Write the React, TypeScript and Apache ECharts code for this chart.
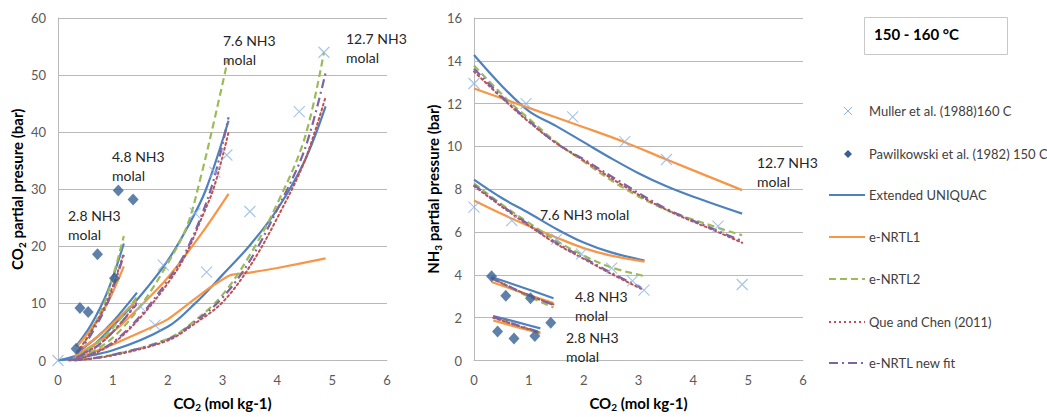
import React, { useEffect, useRef } from "react";
import * as echarts from "echarts";

// ---------- Data ----------
// Left chart: CO2 partial pressure (bar) vs CO2 molality (mol/kg)
const L_UNI_28 = [[0.33, 2.5], [0.6, 6.2], [0.9, 12], [1.2, 20.5]];
const L_UNI_48 = [[0.34, 1.3], [0.7, 4], [1.0, 6.8], [1.44, 11.9]];
const L_UNI_76 = [[0, 0], [0.5, 1.6], [1, 6], [1.5, 11.3], [2, 17.5], [2.4, 24], [2.7, 30], [3.11, 42]];
const L_UNI_127 = [[0, 0], [1, 1.8], [2, 5.9], [2.5, 10], [3, 15], [3.5, 20.2], [4, 26.5], [4.5, 35], [4.88, 44.5]];

const L_N1_28 = [[0.35, 2.5], [0.6, 5.5], [0.9, 10], [1.2, 16.5]];
const L_N1_48 = [[0.33, 1.5], [0.7, 4], [1.0, 6.5], [1.43, 10.5]];
const L_N1_76 = [[0.3, 0.8], [1, 5], [1.5, 9.5], [2, 14.5], [2.6, 22], [3.11, 29.2]];
const L_N1_127 = [[0.3, 0.3], [1, 2.8], [2, 7.2], [2.7, 12.3], [3.13, 14.9], [3.5, 15.4], [4, 16.2], [4.88, 17.9]];

const L_N2_28 = [[0.35, 1.5], [0.6, 5], [0.9, 11.5], [1.2, 21.8]];
const L_N2_48 = [[0.35, 0.8], [0.7, 3], [1.0, 5.7], [1.43, 11]];
const L_N2_76 = [[0.2, 0], [0.5, 0.9], [1, 4], [1.5, 9.5], [2, 17], [2.35, 23.5], [2.6, 32], [2.86, 42.5], [3.1, 52.8]];
const L_N2_127 = [[0.3, 0], [1, 1], [2, 3.8], [2.5, 7], [3, 11.5], [3.5, 18.5], [4, 27.5], [4.5, 39], [4.85, 54]];

const L_QUE_28 = [[0.35, 1.5], [0.6, 5], [0.9, 10.5], [1.2, 18.8]];
const L_QUE_48 = [[0.35, 0.6], [0.7, 2.5], [1.0, 5.0], [1.43, 10]];
const L_QUE_76 = [[0.2, 0], [0.5, 0.6], [1, 3], [1.5, 7.5], [2, 13.5], [2.3, 18], [2.6, 24.5], [2.85, 30.5], [3.11, 40]];
const L_QUE_127 = [[0.3, 0], [1, 0.9], [2, 3.5], [2.5, 6.5], [3, 10.2], [3.5, 16.5], [4, 25], [4.5, 35], [4.88, 46.2]];

const L_NEW_28 = [[0.35, 1.2], [0.6, 4.5], [0.9, 10], [1.2, 18.5]];
const L_NEW_48 = [[0.35, 0.5], [0.7, 2.4], [1.0, 5], [1.43, 9.8]];
const L_NEW_76 = [[0.2, 0], [0.5, 0.7], [1, 3.2], [1.5, 7.8], [2, 14], [2.3, 18.5], [2.6, 25], [2.85, 32], [3.11, 42.6]];
const L_NEW_127 = [[0.3, 0], [1, 1], [2, 3.7], [2.5, 6.8], [3, 11], [3.5, 17.5], [4, 26.5], [4.5, 37], [4.88, 50.4]];

const L_MULLER = [[0, 0], [1.5, 9.5], [1.77, 6.2], [1.92, 16.7], [2.5, 25.8], [2.71, 15.5], [2.86, 33.0], [3.08, 36.0], [3.5, 26.1], [4.4, 43.6], [4.85, 54.0]];
const L_PAWIL = [[0.33, 2.06], [0.4, 9.2], [0.55, 8.5], [0.72, 18.6], [1.03, 14.4], [1.1, 29.8], [1.37, 28.2]];

// Right chart: NH3 partial pressure (bar) vs CO2 molality (mol/kg)
const R_UNI_28 = [[0.35, 2.07], [0.8, 1.78], [1.21, 1.5]];
const R_UNI_48 = [[0.32, 3.9], [0.9, 3.4], [1.45, 2.91]];
const R_UNI_76 = [[0, 8.45], [0.5, 7.6], [1, 6.89], [1.5, 6.15], [2, 5.51], [2.5, 5.05], [3.11, 4.67]];
const R_UNI_127 = [[0, 14.27], [0.5, 12.85], [1, 11.65], [1.5, 10.95], [2, 10.2], [2.5, 9.45], [3, 8.75], [3.5, 8.15], [4, 7.65], [4.89, 6.86]];

const R_N1_28 = [[0.35, 1.87], [0.8, 1.55], [1.21, 1.26]];
const R_N1_48 = [[0.32, 3.67], [0.9, 3.15], [1.45, 2.68]];
const R_N1_76 = [[0, 7.47], [0.5, 6.85], [1, 6.28], [1.5, 5.75], [2, 5.25], [2.5, 4.9], [3.11, 4.62]];
const R_N1_127 = [[0, 12.71], [1, 11.8], [2, 10.9], [2.75, 10.2], [3.5, 9.4], [4.89, 7.96]];

const R_N2_28 = [[0.35, 2.02], [0.8, 1.62], [1.21, 1.3]];
const R_N2_48 = [[0.32, 3.83], [0.9, 3.1], [1.45, 2.48]];
const R_N2_76 = [[0, 8.27], [0.5, 7.3], [1, 6.43], [1.5, 5.6], [2, 4.9], [2.5, 4.35], [3.11, 3.94]];
const R_N2_127 = [[0, 13.78], [0.6, 12.2], [1, 11.3], [1.5, 10.2], [2, 9.3], [2.7, 8.1], [3.5, 7.05], [4.45, 6.2], [4.89, 5.85]];

const R_QUE_28 = [[0.35, 2.0], [0.8, 1.62], [1.21, 1.3]];
const R_QUE_48 = [[0.32, 3.85], [0.9, 3.15], [1.45, 2.62]];
const R_QUE_76 = [[0, 8.15], [0.5, 7.2], [1, 6.3], [1.5, 5.45], [2, 4.75], [2.5, 4.05], [3.05, 3.35]];
const R_QUE_127 = [[0, 13.5], [0.6, 12.05], [1, 11.15], [1.5, 10.15], [2, 9.35], [2.7, 8.2], [3.5, 7.05], [4.45, 6.0], [4.89, 5.5]];

const R_NEW_28 = [[0.35, 2.05], [0.8, 1.65], [1.21, 1.32]];
const R_NEW_48 = [[0.32, 3.85], [0.9, 3.15], [1.45, 2.6]];
const R_NEW_76 = [[0, 8.2], [0.5, 7.25], [1, 6.35], [1.5, 5.5], [2, 4.8], [2.5, 4.1], [3.05, 3.4]];
const R_NEW_127 = [[0, 13.63], [0.6, 12.1], [1, 11.2], [1.5, 10.15], [2, 9.4], [2.7, 8.3], [3.5, 7.1], [4.45, 6.05], [4.89, 5.59]];

const R_MULLER = [[0, 12.94], [0.95, 12.0], [1.8, 11.38], [2.75, 10.23], [3.51, 9.39], [4.45, 6.28], [4.89, 3.55],
  [0, 7.17], [0.69, 6.54], [1.51, 5.67], [1.96, 4.98], [2.51, 4.32], [2.89, 3.72], [3.1, 3.29]];
const R_PAWIL = [[0.32, 3.94], [0.58, 3.02], [1.03, 2.91], [0.43, 1.35], [0.73, 1.03], [1.11, 1.15], [1.4, 1.76]];

const MODEL_NAMES = ["Extended UNIQUAC", "e-NRTL1", "e-NRTL2", "Que and Chen (2011)", "e-NRTL new fit"];
const DATA_NAMES = ["Muller et al. (1988)160 C", "Pawilkowski et al. (1982) 150 C"];
const LEFT_CURVES = [
  [L_UNI_28, L_UNI_48, L_UNI_76, L_UNI_127],
  [L_N1_28, L_N1_48, L_N1_76, L_N1_127],
  [L_N2_28, L_N2_48, L_N2_76, L_N2_127],
  [L_QUE_28, L_QUE_48, L_QUE_76, L_QUE_127],
  [L_NEW_28, L_NEW_48, L_NEW_76, L_NEW_127],
];
const RIGHT_CURVES = [
  [R_UNI_28, R_UNI_48, R_UNI_76, R_UNI_127],
  [R_N1_28, R_N1_48, R_N1_76, R_N1_127],
  [R_N2_28, R_N2_48, R_N2_76, R_N2_127],
  [R_QUE_28, R_QUE_48, R_QUE_76, R_QUE_127],
  [R_NEW_28, R_NEW_48, R_NEW_76, R_NEW_127],
];

// ---------- Styles ----------
const FONT = "Lato, 'Open Sans', sans-serif";
const MODEL_COLORS = ["#4F81BD", "#F79646", "#9BBB59", "#C0504D", "#8064A2"];
const MODEL_DASH: any[] = ["solid", "solid", [7, 4], [2, 3], [9, 4, 2, 4]];
const MODEL_WIDTH = [2.2, 2.2, 2.2, 2, 2.2];
const MULLER_COLOR = "#8EB4E3";
const PAWIL_COLOR = "#376092";
const GRID_COLOR = "#b9b9b9";
const CROSS = "path://M0,0L10,10M10,0L0,10";

export default function App() {
  const ref = useRef<HTMLDivElement>(null);

  useEffect(() => {
    if (!ref.current) return;
    const chart = echarts.init(ref.current, undefined, { renderer: "svg" });

    const series: any[] = [];
    [LEFT_CURVES, RIGHT_CURVES].forEach((curves, gi) => {
      curves.forEach((group, mi) => {
        group.forEach((pts, ci) => {
          const kinked = gi === 0 && mi === 1 && ci === 3;
          series.push({
            type: "line",
            name: MODEL_NAMES[mi],
            xAxisIndex: gi,
            yAxisIndex: gi,
            data: pts,
            smooth: kinked ? 0.15 : 0.35,
            symbol: "none",
            showSymbol: false,
            silent: true,
            lineStyle: {
              color: MODEL_COLORS[mi],
              width: MODEL_WIDTH[mi],
              type: MODEL_DASH[mi],
              cap: mi === 3 ? "round" : "butt",
            },
            z: 3,
          });
        });
      });
    });
    [L_MULLER, R_MULLER].forEach((pts, gi) => {
      series.push({
        type: "scatter",
        name: DATA_NAMES[0],
        xAxisIndex: gi,
        yAxisIndex: gi,
        data: pts,
        symbol: CROSS,
        symbolSize: 11,
        itemStyle: { color: "rgba(0,0,0,0)", borderColor: MULLER_COLOR, borderWidth: 1.1 },
        z: 4,
      });
    });
    [L_PAWIL, R_PAWIL].forEach((pts, gi) => {
      series.push({
        type: "scatter",
        name: DATA_NAMES[1],
        xAxisIndex: gi,
        yAxisIndex: gi,
        data: pts,
        symbol: "diamond",
        symbolSize: [11, 12],
        itemStyle: { color: PAWIL_COLOR },
        z: 5,
      });
    });

    const axisLabel = { color: "#595959", fontSize: 13, fontFamily: FONT };
    const richName = () => ({
      b: { fontSize: 15, fontWeight: "bold", color: "#000", fontFamily: FONT, lineHeight: 20 },
      s: { fontSize: 10, fontWeight: "bold", color: "#000", fontFamily: FONT, lineHeight: 20, padding: [9, 0, 0, 0] },
    });
    const xAxisBase = (gi: number) => ({
      type: "value",
      gridIndex: gi,
      min: 0,
      max: 6,
      interval: 1,
      splitLine: { show: false },
      axisLine: { show: true, lineStyle: { color: GRID_COLOR, width: 1 } },
      axisTick: { show: false },
      axisLabel: { ...axisLabel, margin: 13 },
      name: "{b|CO}{s|2}{b| (mol kg-1)}",
      nameLocation: "middle",
      nameGap: 32,
      nameTextStyle: { rich: richName() },
    });
    const yAxisBase = (gi: number, max: number, interval: number, name: string) => ({
      type: "value",
      gridIndex: gi,
      min: 0,
      max,
      interval,
      splitLine: { show: true, lineStyle: { color: GRID_COLOR, width: 1 } },
      axisLine: { show: true, lineStyle: { color: GRID_COLOR, width: 1 } },
      axisTick: { show: false },
      axisLabel: { ...axisLabel, margin: 12 },
      name,
      nameLocation: "middle",
      nameGap: 31,
      nameTextStyle: { rich: richName() },
    });

    const labelStyle = { fill: "#262626", fontSize: 14, fontFamily: FONT, lineHeight: 19 };
    const txt = (x: number, y: number, text: string) => ({
      type: "text",
      x,
      y,
      style: { ...labelStyle, text, textVerticalAlign: "middle" },
      z: 10,
    });

    const legendRows = [
      { y: 111, kind: "cross", text: DATA_NAMES[0] },
      { y: 154, kind: "diamond", text: DATA_NAMES[1] },
      { y: 195, kind: 0, text: MODEL_NAMES[0] },
      { y: 237, kind: 1, text: MODEL_NAMES[1] },
      { y: 279, kind: 2, text: MODEL_NAMES[2] },
      { y: 322, kind: 3, text: MODEL_NAMES[3] },
      { y: 363, kind: 4, text: MODEL_NAMES[4] },
    ];
    const legendEls: any[] = [];
    legendRows.forEach((r) => {
      if (r.kind === "cross") {
        legendEls.push({ type: "line", shape: { x1: 844, y1: 107, x2: 852, y2: 115 }, style: { stroke: MULLER_COLOR, lineWidth: 1 } });
        legendEls.push({ type: "line", shape: { x1: 852, y1: 107, x2: 844, y2: 115 }, style: { stroke: MULLER_COLOR, lineWidth: 1 } });
      } else if (r.kind === "diamond") {
        legendEls.push({ type: "polygon", shape: { points: [[848, 150], [852, 154], [848, 158], [844, 154]] }, style: { fill: PAWIL_COLOR } });
      } else {
        const k = r.kind as number;
        const dash = MODEL_DASH[k];
        legendEls.push({
          type: "line",
          shape: { x1: 829, y1: r.y, x2: 865, y2: r.y },
          style: {
            stroke: MODEL_COLORS[k],
            lineWidth: MODEL_WIDTH[k],
            lineDash: Array.isArray(dash) ? dash : null,
          },
        });
      }
      legendEls.push({
        type: "text",
        x: 869,
        y: r.y,
        style: { text: r.text, fill: "#404040", fontSize: 13, fontFamily: FONT, textVerticalAlign: "middle" },
      });
    });

    chart.setOption({
      animation: false,
      backgroundColor: "#fff",
      grid: [
        { left: 58, top: 18, width: 329, height: 349 },
        { left: 474, top: 18, width: 329, height: 349 },
      ],
      xAxis: [xAxisBase(0), xAxisBase(1)],
      yAxis: [
        yAxisBase(0, 60, 10, "{b|CO}{s|2}{b| partial presure (bar)}"),
        yAxisBase(1, 16, 2, "{b|NH}{s|3}{b| partial pressure (bar)}"),
      ],
      series,
      graphic: [
        txt(68, 224.5, "2.8 NH3\nmolal"),
        txt(112, 165.5, "4.8 NH3\nmolal"),
        txt(223, 50, "7.6 NH3\nmolal"),
        txt(346, 47.5, "12.7 NH3\nmolal"),
        txt(757, 172, "12.7 NH3\nmolal"),
        txt(540, 214, "7.6 NH3 molal"),
        txt(575, 305.5, "4.8 NH3\nmolal"),
        txt(566, 346.5, "2.8 NH3\nmolal"),
        {
          type: "rect",
          shape: { x: 864.5, y: 17.5, width: 143, height: 37 },
          style: { fill: "#fff", stroke: "#c8c8c8", lineWidth: 1 },
        },
        {
          type: "text",
          x: 874,
          y: 34,
          style: { text: "150 - 160 °C", fill: "#000", fontSize: 15, fontWeight: "bold", fontFamily: FONT, textVerticalAlign: "middle" },
        },
        ...legendEls,
      ],
    });

    return () => chart.dispose();
  }, []);

  return (
    <div
      ref={ref}
      style={{ position: "fixed", left: 0, top: 0, width: 1047, height: 417, background: "#fff" }}
    />
  );
}
